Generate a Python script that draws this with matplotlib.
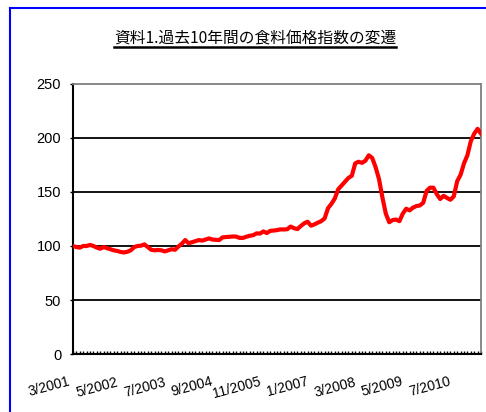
import matplotlib
matplotlib.use('Agg')
import matplotlib.pyplot as plt
from matplotlib.lines import Line2D
from matplotlib.transforms import ScaledTranslation
import numpy as np

# monthly food price index, 3/2001 .. 3/2011
values = [100, 99, 98.5, 100, 100, 101, 100, 98.5, 97.5, 99,
          98, 97, 96, 95.4, 94.5, 94, 94.7, 96, 99, 100,
          100.3, 101.5, 99, 96.5, 96, 96.3, 96, 95, 96, 97,
          96.5, 99.5, 102, 105.5, 102.5, 103.5, 104.5, 105.5, 105, 106,
          107, 106, 105.7, 105.5, 108, 108.3, 108.5, 108.8, 108.7, 107.5,
          107.5, 108.6, 109.5, 110, 111.7, 111.5, 113.5, 112, 114, 114.3,
          114.7, 115.4, 115.3, 115.5, 118, 116.5, 115.7, 118.5, 121, 122.5,
          118.8, 120, 121.6, 123, 125.5, 135, 139, 144, 152.5, 156,
          159.5, 163, 165, 176.5, 178, 177, 179, 184, 181.5, 173,
          162, 145, 130, 122, 124, 124.5, 123, 130, 134.5, 133,
          135.5, 137, 137.5, 140, 151, 154, 154, 148, 143.5, 146.5,
          144.5, 142.8, 146, 160, 166, 176.5, 184, 197, 204, 208.5,
          204]
tick_labels = ['3/2001', '5/2002', '7/2003', '9/2004', '11/2005',
               '1/2007', '3/2008', '5/2009', '7/2010']
title = '資料1.過去10年間の食料価格指数の変遷'

plt.rcParams['font.family'] = ['Liberation Sans', 'DejaVu Sans']

fig = plt.figure(figsize=(4.86, 4.12), dpi=100)
ax = fig.add_axes([73/486, 1-354/412, 408/486, 270/412])

x = np.arange(len(values))
ax.plot(x, values, color='#ff0000', lw=3, solid_joinstyle='round', zorder=3)

ax.set_xlim(0, len(values) - 1)
ax.set_ylim(0, 250)
ax.set_yticks([0, 50, 100, 150, 200, 250])
for yv in [50, 100, 150, 200]:
    ax.axhline(yv, color='black', lw=1.3, zorder=1)

ax.set_xticks(x, minor=True)
ax.set_xticks(x[::14])
ax.set_xticklabels(tick_labels, rotation=15, ha='right', va='top',
                   rotation_mode='anchor', fontsize=10)
ax.tick_params(axis='x', which='both', direction='in', length=2.2, width=1,
               pad=15)
ax.tick_params(axis='y', direction='out', length=2.5, width=1, labelsize=10.5,
               pad=6)
off = ScaledTranslation(-5/100, 0, fig.dpi_scale_trans)
for lab in ax.get_xticklabels():
    lab.set_transform(lab.get_transform() + off)

for s in ['left', 'bottom']:
    ax.spines[s].set_linewidth(1.5)
    ax.spines[s].set_color('black')
for s in ['top', 'right']:
    ax.spines[s].set_linewidth(1.3)
    ax.spines[s].set_color('#808080')

t = fig.text(255/486, 1-39/412, title, ha='center', va='center', fontsize=11.3,
             family=['Noto Sans CJK JP', 'DejaVu Sans'])

# blue frame (left and top edges visible)
fig.add_artist(Line2D([10/486, 10/486], [0, 1-8/412], transform=fig.transFigure,
                      color='#0000ff', lw=1.5))
fig.add_artist(Line2D([10/486, 1], [1-8/412, 1-8/412], transform=fig.transFigure,
                      color='#0000ff', lw=1.5))

# underline for the title
fig.canvas.draw()
bb = t.get_window_extent()
W, H = fig.bbox.width, fig.bbox.height
fig.add_artist(Line2D([bb.x0/W, bb.x1/W], [(bb.y0 + 1)/H, (bb.y0 + 1)/H],
                      transform=fig.transFigure, color='black', lw=1.8))

fig.savefig('out.png', dpi=100)
